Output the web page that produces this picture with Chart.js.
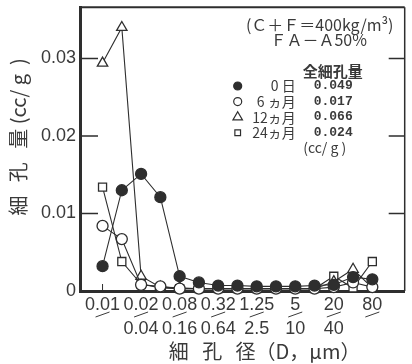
<!DOCTYPE html>
<html>
<head>
<meta charset="utf-8">
<script src="https://cdn.jsdelivr.net/npm/chart.js@4.4.1/dist/chart.umd.min.js"></script>
<style>
html, body { margin: 0; padding: 0; background: #fff; }
#wrap { width: 412px; height: 364px; }
</style>
</head>
<body>
<div id="wrap"><canvas id="poreChart" width="412" height="364"></canvas></div>
<script>
// pore size classes, one index per class along the x axis
const classIdx = [0, 1, 2, 3, 4, 5, 6, 7, 8, 9, 10, 11, 12, 13, 14];
// labelled positions and their two rows of text
const tickIdx = [0, 2, 4, 6, 8, 10, 12, 14];
const tickTop = ['0.01', '0.02', '0.08', '0.32', '1.25', '5', '20', '80'];
const tickBottom = ['', '0.04', '0.16', '0.64', '2.5', '10', '40', ''];
const yTicks = [0, 0.01, 0.02, 0.03];

// pore volume (cc/g)
const day0    = [0.0032, 0.0130, 0.0151, 0.0121, 0.0019, 0.0011, 0.0007, 0.0007, 0.0006, 0.0006, 0.0006, 0.0007, 0.0008, 0.0018, 0.0015];
const month6  = [0.0084, 0.0067, 0.0008, 0.0006, 0.0003, 0.0003, 0.0003, 0.0003, 0.0003, 0.0003, 0.0003, 0.0003, 0.0005, 0.0011, 0.0005];
const month12 = [0.0294, 0.0340, 0.0019, 0.0005, 0.0004, 0.0003, 0.0003, 0.0003, 0.0003, 0.0003, 0.0003, 0.0003, 0.0012, 0.0028, 0.0004];
const month24 = [0.0134, 0.0038, 0.0009, 0.0004, 0.0003, 0.0003, 0.0003, 0.0003, 0.0003, 0.0003, 0.0003, 0.0003, 0.0019, 0.0004, 0.0038];

const seriesNames = ['0 日', '6 ヵ月', '12ヵ月', '24ヵ月'];
const totals = ['0.049', '0.017', '0.066', '0.024'];

const INK = '#2e2e2e';
const TEXT = '#3a3a3a';

function pts(arr) {
    return arr.map((v, i) => ({ x: classIdx[i], y: v }));
}

function series(arr, style, radius, fill) {
    return {
        data: pts(arr),
        borderColor: INK,
        borderWidth: 1.1,
        pointStyle: style,
        pointRadius: radius,
        pointBackgroundColor: fill,
        pointBorderColor: INK,
        pointBorderWidth: 1.3,
        tension: 0,
        clip: false
    };
}

const markers = [
    { pointStyle: 'circle', radius: 4, fill: INK },
    { pointStyle: 'circle', radius: 4, fill: '#fff' },
    { pointStyle: 'triangle', radius: 5.5, fill: '#fff' },
    { pointStyle: 'rect', radius: 4, fill: '#fff' }
];

// box, inward ticks and the slanted marks between label rows
const framePlugin = {
    id: 'frame',
    beforeDatasetsDraw(chart) {
        const { ctx, chartArea: a, scales } = chart;
        ctx.save();
        ctx.strokeStyle = INK;
        ctx.lineWidth = 2;
        ctx.beginPath();
        ctx.moveTo(a.left, a.top);
        ctx.lineTo(a.right, a.top);
        ctx.stroke();
        ctx.lineWidth = 1.5;
        ctx.beginPath();
        ctx.moveTo(a.right, a.top);
        ctx.lineTo(a.right, a.bottom);
        ctx.stroke();

        ctx.lineWidth = 1.5;
        yTicks.slice(1).forEach(v => {
            const y = scales.y.getPixelForValue(v);
            ctx.beginPath();
            ctx.moveTo(a.left, y);
            ctx.lineTo(a.left + 18, y);
            ctx.moveTo(a.right - 16, y);
            ctx.lineTo(a.right, y);
            ctx.stroke();
        });
        ctx.lineWidth = 1;
        tickIdx.forEach(v => {
            const x = scales.x.getPixelForValue(v);
            ctx.beginPath();
            ctx.moveTo(x, a.bottom);
            ctx.lineTo(x, a.bottom - 7);
            ctx.stroke();
        });
        ctx.restore();
    },
    afterDraw(chart) {
        const { ctx, chartArea: a, scales } = chart;
        ctx.save();
        ctx.strokeStyle = TEXT;
        ctx.lineWidth = 1;
        tickIdx.forEach(v => {
            const x = scales.x.getPixelForValue(v);
            ctx.beginPath();
            ctx.moveTo(x - 7, a.bottom + 26);
            ctx.lineTo(x + 7, a.bottom + 21);
            ctx.stroke();
        });

        // legend block
        const r = a.right;
        ctx.fillStyle = TEXT;
        ctx.textBaseline = 'middle';
        ctx.textAlign = 'center';
        ctx.font = '16px "Noto Sans CJK JP"';
        ctx.fillText('(Ｃ＋Ｆ＝400kg/m³)', r - 85, 25);
        ctx.fillText('ＦＡ－Ａ50%', r - 86, 40);
        ctx.font = 'bold 15px "Noto Sans CJK JP"';
        ctx.fillText('全細孔量', r - 72, 71);

        seriesNames.forEach((name, i) => {
            const y = 86 + i * 15.6;
            const m = markers[i];
            ctx.fillStyle = m.fill;
            ctx.strokeStyle = INK;
            ctx.lineWidth = 1.2;
            Chart.helpers.drawPoint(ctx, { pointStyle: m.pointStyle, radius: m.radius, rotation: 0, borderWidth: 1.2 }, r - 167, y);
            ctx.fillStyle = TEXT;
            ctx.textAlign = 'right';
            ctx.font = '14px "Noto Sans CJK JP"';
            ctx.fillText(name, r - 109, y);
            ctx.textAlign = 'left';
            ctx.font = 'bold 13px "Liberation Mono"';
            ctx.fillText(totals[i], r - 91, y);
        });
        ctx.textAlign = 'center';
        ctx.font = '14px "Noto Sans CJK JP"';
        ctx.fillText('(cc/ g )', r - 80, 148);
        ctx.restore();
    }
};

new Chart(document.getElementById('poreChart'), {
    type: 'line',
    data: {
        datasets: [
            series(day0, 'circle', 5.5, INK),
            series(month6, 'circle', 5.5, '#fff'),
            series(month12, 'triangle', 6, '#fff'),
            series(month24, 'rect', 5.7, '#fff')
        ]
    },
    options: {
        responsive: false,
        animation: false,
        layout: { padding: { top: 7, right: 1, left: 0, bottom: 0 } },
        plugins: { legend: { display: false }, tooltip: { enabled: false } },
        scales: {
            x: {
                type: 'linear',
                min: -1.17,
                max: 15.68,
                afterBuildTicks: axis => { axis.ticks = tickIdx.map(v => ({ value: v })); },
                afterFit: s => { s.height = 73; s.paddingLeft = 0; s.paddingRight = 0; },
                grid: { display: false, drawTicks: false },
                border: { display: true, width: 3, color: INK },
                ticks: {
                    autoSkip: false,
                    maxRotation: 0,
                    padding: 2,
                    color: TEXT,
                    font: { family: '"Liberation Sans"', size: 18, lineHeight: 1.33 },
                    callback: (v, i) => tickBottom[i] ? [tickTop[i], tickBottom[i]] : tickTop[i]
                },
                title: {
                    display: true,
                    text: '　　 細   孔   径（D，μm）',
                    color: TEXT,
                    font: { family: '"Noto Sans CJK JP"', size: 20 },
                    padding: { top: 0, bottom: 1 }
                }
            },
            y: {
                type: 'linear',
                min: 0,
                max: 0.0366,
                afterBuildTicks: axis => { axis.ticks = yTicks.map(v => ({ value: v })); },
                afterFit: s => { s.width = 80; s.paddingTop = 0; s.paddingBottom = 0; },
                grid: { display: false, drawTicks: false },
                border: { display: true, width: 3, color: INK },
                ticks: {
                    padding: 4,
                    color: TEXT,
                    font: { family: '"Liberation Sans"', size: 18 },
                    callback: v => v === 0 ? '0' : v.toFixed(2)
                },
                title: {
                    display: true,
                    text: '　 細   孔   量 (cc/ g  )',
                    color: TEXT,
                    font: { family: '"Noto Sans CJK JP"', size: 20 },
                    padding: { top: 6, bottom: 0 }
                }
            }
        }
    },
    plugins: [framePlugin]
});
</script>
</body>
</html>
